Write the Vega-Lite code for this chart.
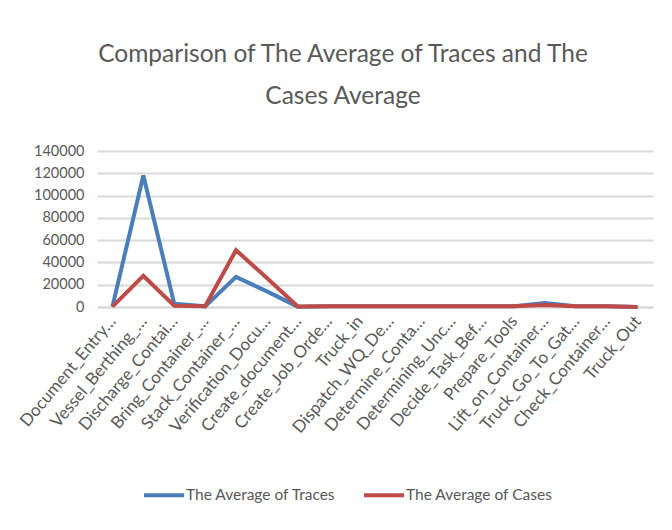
{
  "$schema": "https://vega.github.io/schema/vega-lite/v6.json",
  "width": 556,
  "height": 156,
  "autosize": {"type": "none"},
  "padding": {"left": 97, "top": 151, "right": 19, "bottom": 223},
  "background": "white",
  "title": {
    "text": ["Comparison of  The Average of Traces and The", "Cases Average"],
    "font": "Lato",
    "fontSize": 24.5,
    "fontWeight": "normal",
    "color": "#595959",
    "lineHeight": 42,
    "anchor": "middle",
    "dx": -32,
    "offset": 34
  },
  "data": {
    "values": [
      {"step": "Document_Entry…", "series": "The Average of Traces", "value": 300},
      {"step": "Vessel_Berthing_…", "series": "The Average of Traces", "value": 118000},
      {"step": "Discharge_Contai…", "series": "The Average of Traces", "value": 3000},
      {"step": "Bring_Container_…", "series": "The Average of Traces", "value": 600},
      {"step": "Stack_Container_…", "series": "The Average of Traces", "value": 27000},
      {"step": "Verification_Docu…", "series": "The Average of Traces", "value": 14000},
      {"step": "Create_document…", "series": "The Average of Traces", "value": 300},
      {"step": "Create_Job_Orde…", "series": "The Average of Traces", "value": 600},
      {"step": "Truck_in", "series": "The Average of Traces", "value": 600},
      {"step": "Dispatch_WQ_De…", "series": "The Average of Traces", "value": 600},
      {"step": "Determine_Conta…", "series": "The Average of Traces", "value": 600},
      {"step": "Determining_Unc…", "series": "The Average of Traces", "value": 600},
      {"step": "Decide_Task_Bef…", "series": "The Average of Traces", "value": 600},
      {"step": "Prepare_Tools", "series": "The Average of Traces", "value": 600},
      {"step": "Lift_on_Container…", "series": "The Average of Traces", "value": 3500},
      {"step": "Truck_Go_To_Gat…", "series": "The Average of Traces", "value": 600},
      {"step": "Check_Container…", "series": "The Average of Traces", "value": 600},
      {"step": "Truck_Out", "series": "The Average of Traces", "value": 100},
      {"step": "Document_Entry…", "series": "The Average of Cases", "value": 300},
      {"step": "Vessel_Berthing_…", "series": "The Average of Cases", "value": 28000},
      {"step": "Discharge_Contai…", "series": "The Average of Cases", "value": 1200},
      {"step": "Bring_Container_…", "series": "The Average of Cases", "value": 600},
      {"step": "Stack_Container_…", "series": "The Average of Cases", "value": 51000},
      {"step": "Verification_Docu…", "series": "The Average of Cases", "value": 26000},
      {"step": "Create_document…", "series": "The Average of Cases", "value": 500},
      {"step": "Create_Job_Orde…", "series": "The Average of Cases", "value": 600},
      {"step": "Truck_in", "series": "The Average of Cases", "value": 600},
      {"step": "Dispatch_WQ_De…", "series": "The Average of Cases", "value": 600},
      {"step": "Determine_Conta…", "series": "The Average of Cases", "value": 600},
      {"step": "Determining_Unc…", "series": "The Average of Cases", "value": 600},
      {"step": "Decide_Task_Bef…", "series": "The Average of Cases", "value": 600},
      {"step": "Prepare_Tools", "series": "The Average of Cases", "value": 600},
      {"step": "Lift_on_Container…", "series": "The Average of Cases", "value": 1800},
      {"step": "Truck_Go_To_Gat…", "series": "The Average of Cases", "value": 600},
      {"step": "Check_Container…", "series": "The Average of Cases", "value": 600},
      {"step": "Truck_Out", "series": "The Average of Cases", "value": 100}
    ]
  },
  "mark": {"type": "line", "strokeWidth": 4, "strokeJoin": "miter", "clip": false},
  "encoding": {
    "x": {
      "field": "step",
      "type": "nominal",
      "sort": null,
      "scale": {"paddingInner": 0, "paddingOuter": 0},
      "axis": {
        "title": null,
        "labelAngle": -50,
        "labelAlign": "right",
        "labelBaseline": "middle",
        "labelFont": "Lato",
        "labelFontSize": 17,
        "labelColor": "#595959",
        "labelLimit": 0,
        "labelPadding": 11,
        "ticks": false,
        "domainColor": "#D9D9D9",
        "domainWidth": 2,
        "grid": false
      }
    },
    "y": {
      "field": "value",
      "type": "quantitative",
      "scale": {"domain": [0, 140000], "nice": false},
      "axis": {
        "title": null,
        "values": [0, 20000, 40000, 60000, 80000, 100000, 120000, 140000],
        "format": "d",
        "labelFont": "Lato",
        "labelFontSize": 14.5,
        "labelColor": "#595959",
        "labelPadding": 13,
        "ticks": false,
        "domain": false,
        "gridColor": "#D9D9D9",
        "gridWidth": 2
      }
    },
    "color": {
      "field": "series",
      "type": "nominal",
      "scale": {
        "domain": ["The Average of Traces", "The Average of Cases"],
        "range": ["#4A7EBB", "#BE4B48"]
      },
      "legend": {
        "title": null,
        "orient": "none",
        "direction": "horizontal",
        "legendX": 45,
        "legendY": 322,
        "symbolType": "stroke",
        "symbolStrokeWidth": 4,
        "symbolSize": 1600,
        "labelFont": "Lato",
        "labelFontSize": 15.5,
        "labelColor": "#595959",
        "labelOffset": 0,
        "columnPadding": 20,
        "labelLimit": 0
      }
    }
  },
  "config": {"view": {"stroke": null}}
}
